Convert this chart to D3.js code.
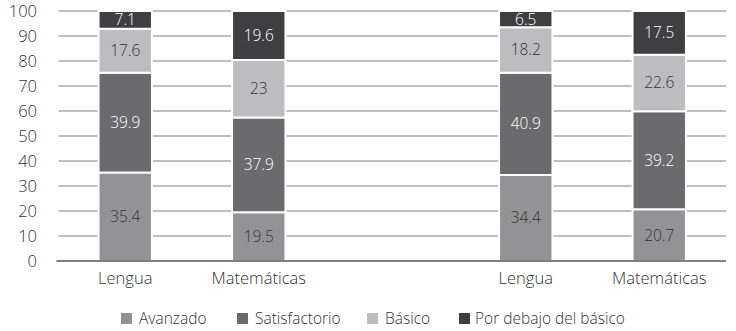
<!DOCTYPE html>
<html>
<head>
<meta charset="utf-8">
<script src="https://cdn.jsdelivr.net/npm/d3@7"></script>
<style>
  body { margin: 0; background: #fff; }
  svg { display: block; font-family: "Open Sans", sans-serif; font-weight: 300; }
</style>
</head>
<body>
<div id="container"></div>
<script>
/* DATA */
const categories = ["Lengua", "Matemáticas", "", "Lengua", "Matemáticas"];
const slots = ["L1", "M1", "gap", "L2", "M2"];
const barSlots = ["L1", "M1", "L2", "M2"];
const seriesNames = ["Avanzado", "Satisfactorio", "Básico", "Por debajo del básico"];
const avanzado = [35.4, 19.5, 34.4, 20.7];
const satisfactorio = [39.9, 37.9, 40.9, 39.2];
const basico = [17.6, 23, 18.2, 22.6];
const porDebajo = [7.1, 19.6, 6.5, 17.5];
const yTicks = [0, 10, 20, 30, 40, 50, 60, 70, 80, 90, 100];

/* CONSTANTS */
const width = 736;
const height = 331;
const margin = {top: 11, bottom: 70, left: 58.5, right: 10};
const colors = ["#939396", "#6b6b6d", "#bdbdc0", "#3f3f42"];
const labelColors = ["#333", "#fff", "#333", "#fff"];

// table for the stack
const table = barSlots.map((s, i) => ({
  slot: s,
  "Avanzado": avanzado[i],
  "Satisfactorio": satisfactorio[i],
  "Básico": basico[i],
  "Por debajo del básico": porDebajo[i]
}));

const svg = d3.select("#container")
  .append("svg")
  .attr("width", width)
  .attr("height", height);

const xScale = d3.scaleBand()
  .domain(slots)
  .range([margin.left, 726])
  .paddingInner(0.6)
  .paddingOuter(0.3);

const yScale = d3.scaleLinear()
  .domain([0, 100])
  .range([height - margin.bottom, margin.top]);

// gridlines
svg.append("g")
  .selectAll("line")
  .data(yTicks.filter(d => d > 0))
  .join("line")
  .attr("x1", margin.left)
  .attr("x2", 726)
  .attr("y1", d => yScale(d))
  .attr("y2", d => yScale(d))
  .attr("stroke", "#aaaaaa")
  .attr("stroke-width", 1.5);

// y axis labels
const yAxis = d3.axisLeft(yScale).tickValues(yTicks).tickSize(0).tickPadding(0);
svg.append("g")
  .attr("transform", `translate(${37}, 0)`)
  .call(yAxis)
  .call(g => g.select(".domain").remove())
  .selectAll("text")
  .attr("fill", "#333")
  .style("font-size", "16.5px")
  .style("font-family", "Open Sans, sans-serif");

// stacked bars
const stack = d3.stack().keys(seriesNames);
const stacked = stack(table);

const layers = svg.append("g")
  .selectAll("g")
  .data(stacked)
  .join("g")
  .attr("fill", (d, i) => colors[i]);

layers.selectAll("rect")
  .data(d => d)
  .join("rect")
  .attr("x", d => xScale(d.data.slot))
  .attr("width", xScale.bandwidth())
  .attr("y", d => yScale(d[1]))
  .attr("height", d => yScale(d[0]) - yScale(d[1]))
  .attr("stroke", "#fff")
  .attr("stroke-width", 2);

// value labels
stacked.forEach((layer, i) => {
  svg.append("g")
    .selectAll("text")
    .data(layer)
    .join("text")
    .attr("x", d => xScale(d.data.slot) + xScale.bandwidth() / 2)
    .attr("y", d => yScale((d[0] + d[1]) / 2))
    .attr("dy", "0.35em")
    .attr("text-anchor", "middle")
    .attr("fill", labelColors[i])
    .style("font-size", "15.5px")
    .text(d => d.data[layer.key]);
});

// baseline
svg.append("line")
  .attr("x1", margin.left - 2)
  .attr("x2", 726)
  .attr("y1", yScale(0))
  .attr("y2", yScale(0))
  .attr("stroke", "#555")
  .attr("stroke-width", 1.5);

// category labels
const xAxis = d3.axisBottom(xScale).tickSize(0).tickPadding(0)
  .tickFormat((d, i) => categories[i]);
svg.append("g")
  .attr("transform", `translate(0, ${yScale(0) + 11})`)
  .call(xAxis)
  .call(g => g.select(".domain").remove())
  .selectAll("text")
  .attr("fill", "#333")
  .style("font-size", "16.5px")
  .style("font-family", "Open Sans, sans-serif");

// legend
const legendX = [121, 237, 367, 459];
const legend = svg.append("g")
  .selectAll("g")
  .data(seriesNames)
  .join("g")
  .attr("transform", (d, i) => `translate(${legendX[i]}, ${319})`);

legend.append("rect")
  .attr("x", 0)
  .attr("y", -6)
  .attr("width", 11)
  .attr("height", 11)
  .attr("fill", (d, i) => colors[i]);

legend.append("text")
  .attr("x", (d, i) => i === 3 ? 16 : 18)
  .attr("y", 0)
  .attr("dy", "0.35em")
  .attr("fill", "#333")
  .style("font-size", "15.5px")
  .text(d => d);
</script>
</body>
</html>
